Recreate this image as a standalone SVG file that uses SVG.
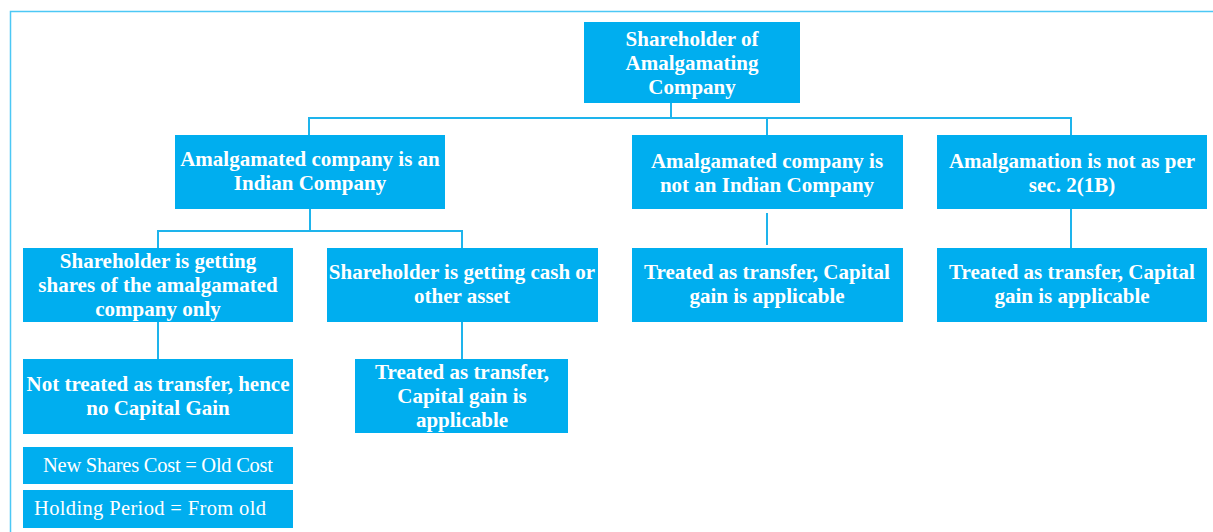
<svg xmlns="http://www.w3.org/2000/svg" width="1213" height="532" viewBox="0 0 1213 532">
<style>
.box{fill:#00aeef}
.t{font-family:"Liberation Serif","Times New Roman",serif;font-weight:bold;font-size:21px;fill:#fff;text-anchor:middle}
.n{font-family:"Liberation Serif","Times New Roman",serif;font-size:20.5px;fill:#fff}
.c{fill:none;stroke:#1eb4ec;stroke-width:2}
.frame{fill:none;stroke:#4cc8f5;stroke-width:1.5}
</style>
<rect width="1213" height="532" fill="#fff"/>
<path class="frame" d="M10.5 540 V11.5 H1214"/>
<g id="connectors">
<path class="c" d="M671 103 V118 M309 135 V118 H1071 V135 M767 118 V135"/>
<path class="c" d="M310 209 V231 M158 248 V231 H462 V248"/>
<path class="c" d="M767 213 V245"/>
<path class="c" d="M1071 209 V248"/>
<path class="c" d="M158 322 V359"/>
<path class="c" d="M462 322 V359"/>
</g>
<g id="root"><rect class="box" x="584" y="22" width="216" height="81"/>
<text class="t" x="692" y="46">Shareholder of</text><text class="t" x="692" y="70">Amalgamating</text><text class="t" x="692" y="94">Company</text></g>
<g id="indian"><rect class="box" x="175" y="135" width="270" height="74"/>
<text class="t" x="310" y="166">Amalgamated company is an</text><text class="t" x="310" y="190">Indian Company</text></g>
<g id="notindian"><rect class="box" x="632" y="135" width="271" height="74"/>
<text class="t" x="767" y="168">Amalgamated company is</text><text class="t" x="767" y="192">not an Indian Company</text></g>
<g id="notsec"><rect class="box" x="937" y="135" width="270" height="74"/>
<text class="t" x="1072" y="168">Amalgamation is not as per</text><text class="t" x="1072" y="192">sec. 2(1B)</text></g>
<g id="sharesonly"><rect class="box" x="23" y="248" width="270" height="74"/>
<text class="t" x="158" y="268">Shareholder is getting</text><text class="t" x="158" y="292">shares of the amalgamated</text><text class="t" x="158" y="316">company only</text></g>
<g id="cash"><rect class="box" x="327" y="248" width="271" height="74"/>
<text class="t" x="462" y="279">Shareholder is getting cash or</text><text class="t" x="462" y="303">other asset</text></g>
<g id="transferF"><rect class="box" x="632" y="248" width="271" height="74"/>
<text class="t" x="767" y="279">Treated as transfer, Capital</text><text class="t" x="767" y="303">gain is applicable</text></g>
<g id="transferG"><rect class="box" x="937" y="248" width="270" height="74"/>
<text class="t" x="1072" y="279">Treated as transfer, Capital</text><text class="t" x="1072" y="303">gain is applicable</text></g>
<g id="nottransfer"><rect class="box" x="23" y="359" width="270" height="75"/>
<text class="t" x="158" y="391">Not treated as transfer, hence</text><text class="t" x="158" y="415">no Capital Gain</text></g>
<g id="transferI"><rect class="box" x="355" y="359" width="213" height="74"/>
<text class="t" x="462" y="379">Treated as transfer,</text><text class="t" x="462" y="403">Capital gain is</text><text class="t" x="462" y="427">applicable</text></g>
<g id="cost"><rect class="box" x="23" y="447" width="270" height="37"/>
<text class="n" x="158" y="472" text-anchor="middle" textLength="230">New Shares Cost = Old Cost</text></g>
<g id="holding"><rect class="box" x="23" y="490" width="270" height="38"/>
<text class="n" x="34" y="515" textLength="232">Holding Period = From old</text></g>
</svg>
